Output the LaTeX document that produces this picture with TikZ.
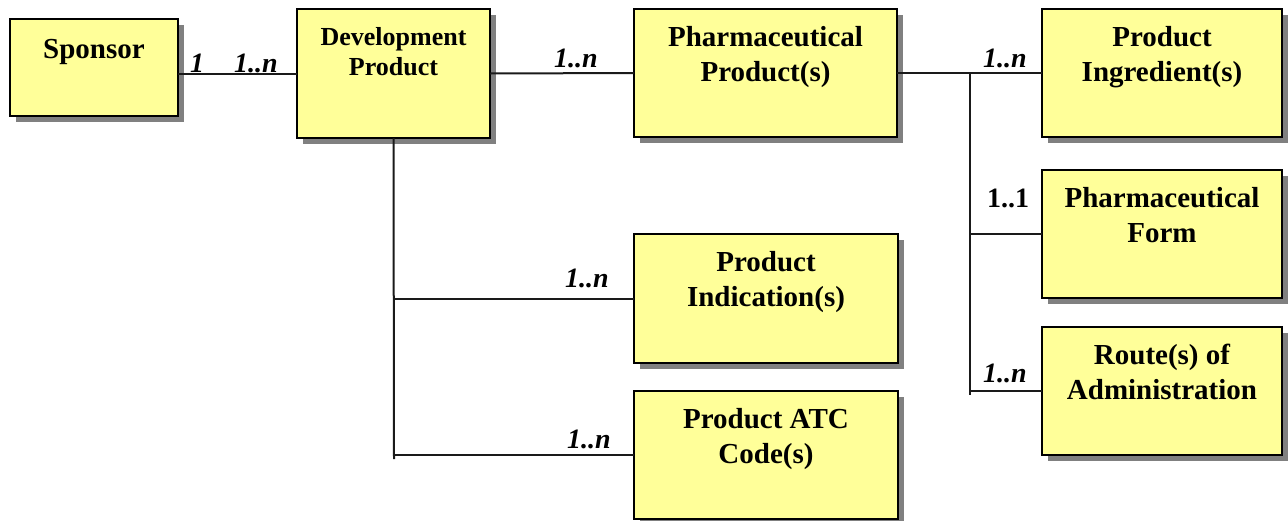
\documentclass[tikz,border=0pt]{standalone}
\usepackage{fontspec}
\setmainfont{Liberation Serif}
\usetikzlibrary{shadows}

\definecolor{boxfill}{HTML}{FFFF99}
\definecolor{shade}{HTML}{808080}
\definecolor{wire}{HTML}{1A1A1A}

\newcommand\titlefont{\fontsize{29}{34.5}\selectfont\bfseries}
\newcommand\smalltitlefont{\fontsize{26}{30}\selectfont\bfseries}

\tikzset{
  entity/.style={draw=black, line width=2.2pt, fill=boxfill, inner sep=0pt, outer sep=0pt,
    drop shadow={shadow xshift=6pt, shadow yshift=-6pt, fill=shade, opacity=1}},
  boxsize/.style 2 args={minimum width=#1pt, minimum height=#2pt},
  title/.style={anchor=north, inner sep=0pt, align=center, font=\titlefont, yshift=-15.5pt},
  smalltitle/.style={anchor=north, inner sep=0pt, align=center, font=\smalltitlefont, yshift=-16pt},
  mult/.style={anchor=base, inner sep=0pt, font=\fontsize{28}{30}\selectfont\bfseries\itshape},
  multup/.style={anchor=base, inner sep=0pt, font=\fontsize{28}{30}\selectfont\bfseries},
  link/.style={draw=wire, line width=2pt}
}

\begin{document}
\begin{tikzpicture}[x=1pt, y=-1pt]
\useasboundingbox (0,0) rectangle (1288,520);

% entity boxes
\node[entity, boxsize={168}{97}] (sponsor) at (94,67.5) {};
\node[title, yshift=-1.5pt] (sponsortext) at (sponsor.north) {\rule{0pt}{22pt}Sponsor};

\node[entity, boxsize={193}{129}] (dev) at (393.5,73.5) {};
\node[smalltitle] (devtext) at (dev.north) {\rule{0pt}{20pt}Development\\Product};

\node[entity, boxsize={263}{128}] (pharm) at (765.5,73) {};
\node[title] (pharmtext) at (pharm.north) {\rule{0pt}{22pt}Pharmaceutical\\Product(s)};

\node[entity, boxsize={240}{128}] (ingr) at (1162,73) {};
\node[title] (ingrtext) at (ingr.north) {\rule{0pt}{22pt}Product\\Ingredient(s)};

\node[entity, boxsize={240}{128}] (form) at (1162,234) {};
\node[title] (formtext) at (form.north) {\rule{0pt}{22pt}Pharmaceutical\\Form};

\node[entity, boxsize={240}{128}] (route) at (1162,391) {};
\node[title] (routetext) at (route.north) {\rule{0pt}{22pt}Route(s) of\\Administration};

\node[entity, boxsize={264}{129}] (indic) at (766,298.5) {};
\node[title] (indictext) at (indic.north) {\rule{0pt}{22pt}Product\\Indication(s)};

\node[entity, boxsize={264}{128}] (atc) at (766,455) {};
\node[title] (atctext) at (atc.north) {\rule{0pt}{22pt}Product ATC\\Code(s)};

% branch points and trunk ends
\coordinate (pjoin) at (970,73);
\coordinate (pend) at (970,395);
\coordinate (dend) at (394,459);

% connectors
\draw[link] (dev.west -| sponsor.east) -- (dev.west);
\draw[link] (dev.east) -- (pharm.west);
\draw[link] (pharm.east) -- (ingr.west);
\draw[link] (pjoin) -- (pend);
\draw[link] (pjoin |- form.west) -- (form.west);
\draw[link] (pjoin |- route.west) -- (route.west);
\draw[link] (dev.south) -- (dend);
\draw[link] (dend |- indic.west) -- (indic.west);
\draw[link] (dend |- atc.west) -- (atc.west);

% multiplicities
\node[mult] (m1) at (197,72) {1};
\node[mult] (m2) at (256,72) {1..n};
\node[mult] (m3) at (576,67) {1..n};
\node[mult] (m4) at (1005,67) {1..n};
\node[multup] (m5) at (1008,207) {1..1};
\node[mult] (m6) at (1005,382) {1..n};
\node[mult] (m7) at (587,287) {1..n};
\node[mult] (m8) at (589,448) {1..n};
\end{tikzpicture}
\end{document}
